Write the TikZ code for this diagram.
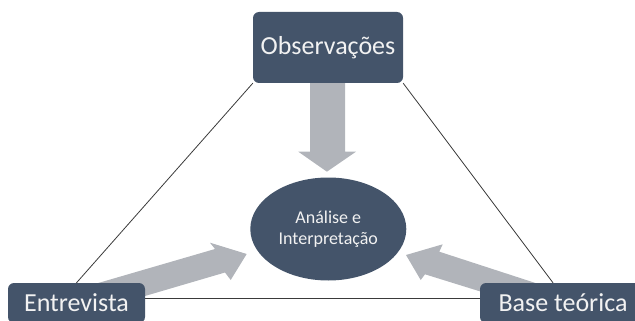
\documentclass[tikz,border=0pt]{standalone}
\usepackage{fontspec}
\setmainfont{Carlito}
\usetikzlibrary{shapes.geometric,backgrounds}
\definecolor{slate}{HTML}{44546A}
\definecolor{arrowgray}{HTML}{B1B4BA}
\definecolor{textlight}{HTML}{F2F2F2}
\definecolor{edgegray}{HTML}{3A3A3A}
\tikzset{
    sourcebox/.style={rectangle,rounded corners=6pt,fill=slate,text=textlight,
        inner sep=0pt,minimum height=40pt,font=\fontsize{26}{30}\selectfont},
    centerblob/.style={ellipse,fill=slate,text=textlight,inner sep=0pt,
        minimum width=156pt,minimum height=103pt,align=center,
        font=\fontsize{18}{21}\selectfont},
    edge/.style={draw=edgegray,line width=0.8pt},
    bigarrow/.style={fill=arrowgray}
}
\begin{document}
\begin{tikzpicture}[x=1pt,y=-1pt]
        \useasboundingbox (0,0) rectangle (635,321);

        \node[sourcebox,minimum width=150pt,minimum height=71pt] (obs) at (328,47.5) {Observações};
        \node[sourcebox,minimum width=137pt] (ent) at (76.5,303) {Entrevista};
        \node[sourcebox,minimum width=166pt] (base) at (563,303) {Base teórica};
        \node[centerblob] (ana) at (328.3,229) {Análise e\\Interpretação};

        \begin{scope}[on background layer]
            \draw[edge] (obs.south west) -- (ent.north);
            \draw[edge] (obs.south east) -- ([xshift=-10pt]base.north);
            \draw[edge] ([yshift=5pt]ent.east) -- ([yshift=5pt]base.west);

            % block arrows into the centre
            \fill[bigarrow] (310,80) -- (345,80) -- (345,151.7) -- (356,151.7)
                -- (326.9,171.7) -- (298.3,151.7) -- (310,151.7) -- cycle;
            \fill[bigarrow] (90,285.4) -- (215,249) -- (210,242.7) -- (246.7,254)
                -- (230.7,280) -- (225,272.5) -- (130,300.4) -- cycle;
            \fill[bigarrow] (560,291) -- (439.3,251.7) -- (442.7,244.3) -- (406,255)
                -- (420.7,280) -- (425,274.3) -- (520,303.8) -- cycle;
        \end{scope}
    \end{tikzpicture}
\end{document}
